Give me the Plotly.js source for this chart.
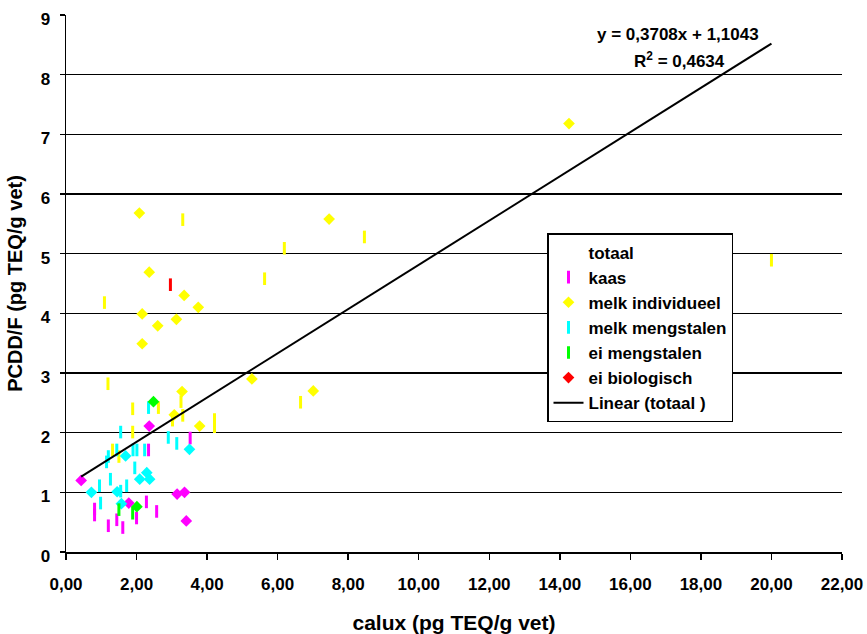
<!DOCTYPE html>
<html>
<head>
<meta charset="utf-8">
<script src="https://cdn.plot.ly/plotly-3.0.1.min.js"></script>
<style>html,body{margin:0;padding:0;background:#fff;}#chart{width:867px;height:634px;}</style>
</head>
<body>
<div id="chart"></div>
<script>
// ---- data ----
const seriesNames = ["kaas", "melk individueel", "melk mengstalen", "ei mengstalen", "ei biologisch"];

const kaasDiamondX = [0.43, 2.36, 3.15, 3.36, 1.78, 3.41];
const kaasDiamondY = [1.20, 2.11, 0.97, 1.00, 0.82, 0.52];
const kaasBarX = [3.52, 2.34, 0.81, 0.81, 2.28, 2.57, 2.00, 1.44, 1.20, 1.61];
const kaasBarY = [1.91, 1.71, 0.72, 0.62, 0.84, 0.68, 0.57, 0.54, 0.44, 0.41];

const melkIndDiamondX = [3.29, 3.07, 3.79, 2.08, 2.36, 3.35, 3.75, 2.16, 3.13, 2.60, 2.16, 7.46, 5.27, 7.01, 14.26];
const melkIndDiamondY = [2.69, 2.30, 2.11, 5.68, 4.69, 4.30, 4.10, 3.99, 3.90, 3.79, 3.49, 5.58, 2.90, 2.70, 7.18];
const melkIndBarX = [1.19, 1.89, 2.62, 3.26, 3.02, 3.31, 4.21, 4.21, 1.89, 1.32, 1.50, 3.31, 1.09, 8.46, 6.19, 5.63, 6.65, 20.00];
const melkIndBarY = [2.82, 2.40, 2.42, 2.52, 2.21, 2.29, 2.22, 2.10, 2.01, 1.71, 1.60, 5.57, 4.18, 5.28, 5.09, 4.58, 2.51, 4.89];

const melkMengDiamondX = [3.50, 1.69, 2.29, 2.37, 2.09, 0.72, 1.45, 1.57];
const melkMengDiamondY = [1.72, 1.61, 1.33, 1.22, 1.22, 1.00, 1.01, 0.81];
const melkMengBarX = [2.34, 1.55, 2.90, 3.14, 1.90, 2.01, 2.23, 1.44, 1.20, 1.15, 1.95, 1.26, 0.95, 1.72, 1.55, 0.98];
const melkMengBarY = [2.42, 2.01, 1.92, 1.82, 1.71, 1.71, 1.71, 1.71, 1.60, 1.51, 1.41, 1.22, 1.11, 1.11, 1.02, 0.82];

const eiMengDiamondX = [2.48, 2.01];
const eiMengDiamondY = [2.52, 0.76];
const eiMengBarX = [1.50, 1.89];
const eiMengBarY = [0.71, 0.65];

const eiBioDiamondX = [];
const eiBioDiamondY = [];
const eiBioBarX = [2.96];
const eiBioBarY = [4.48];

const trendSlope = 0.3708;
const trendIntercept = 1.1043;
const rSquared = "0,4634";
const xTickVals = [0, 2, 4, 6, 8, 10, 12, 14, 16, 18, 20, 22];
const yTickVals = [0, 1, 2, 3, 4, 5, 6, 7, 8, 9];

// ---- build ----
const FONT = "Liberation Sans, Arial, sans-serif";
const colors = ["#FF00FF", "#FFFF00", "#00FFFF", "#00FF00", "#FF0000"];
const diamondsX = [kaasDiamondX, melkIndDiamondX, melkMengDiamondX, eiMengDiamondX, eiBioDiamondX];
const diamondsY = [kaasDiamondY, melkIndDiamondY, melkMengDiamondY, eiMengDiamondY, eiBioDiamondY];
const barsX = [kaasBarX, melkIndBarX, melkMengBarX, eiMengBarX, eiBioBarX];
const barsY = [kaasBarY, melkIndBarY, melkMengBarY, eiMengBarY, eiBioBarY];
const legendSymbol = ["bar", "diamond", "bar", "bar", "diamond"];

const allX = [].concat(...diamondsX, ...barsX);
const allY = [].concat(...diamondsY, ...barsY);

const traces = [];
traces.push({
  type: "scatter", mode: "markers", name: "totaal", x: allX, y: allY,
  marker: {color: "rgba(0,0,0,0)", size: 1}, hoverinfo: "skip", legendrank: 1
});
seriesNames.forEach((n, i) => {
  const dx = diamondsX[i].length ? diamondsX[i] : [null];
  const dy = diamondsY[i].length ? diamondsY[i] : [null];
  traces.push({
    type: "scatter", mode: "markers", name: n, x: dx, y: dy,
    marker: {symbol: "diamond", size: 9, color: colors[i], line: {width: 0}},
    showlegend: legendSymbol[i] === "diamond", legendrank: 2 + i
  });
  traces.push({
    type: "scatter", mode: "markers", name: n, x: barsX[i], y: barsY[i],
    marker: {symbol: "line-ns", size: 9, color: colors[i], line: {width: 3, color: colors[i]}},
    showlegend: legendSymbol[i] === "bar", legendrank: 2 + i
  });
});
const xMin = Math.min(...allX), xMax = Math.max(...allX);
traces.push({
  type: "scatter", mode: "lines", name: "Linear (totaal )",
  x: [xMin, xMax], y: [trendSlope * xMin + trendIntercept, trendSlope * xMax + trendIntercept],
  line: {color: "#000", width: 2}, legendrank: 10
});

const L = 66, R = 842, T = 15, B = 552;
const px = v => (v - L) / (R - L);
const py = v => (B - v) / (B - T);
const fmt = v => v.toFixed(4).replace(".", ",");
const layout = {
  width: 867, height: 634,
  margin: {l: L, r: 867 - R, t: T, b: 634 - B},
  paper_bgcolor: "#fff", plot_bgcolor: "#fff",
  separators: ",.",
  font: {family: FONT, color: "#000", size: 17, weight: "bold"},
  showlegend: true,
  legend: {
    x: px(547), y: py(233), xanchor: "left", yanchor: "top",
    bgcolor: "#fff", bordercolor: "#000", borderwidth: 1.5,
    font: {family: FONT, size: 17, weight: "bold", color: "#000"},
    tracegroupgap: 0, itemwidth: 30
  },
  xaxis: {
    range: [0, 22], tickvals: xTickVals, tickformat: ".2f",
    showgrid: false, zeroline: false, showline: true, linecolor: "#000", linewidth: 1.5,
    ticks: "outside", ticklen: 6, tickcolor: "#000", tickwidth: 1.5,
    ticklabelstandoff: 10, ticklabeloverflow: "allow",
    tickfont: {family: FONT, size: 17, weight: "bold"},
    title: {text: "calux (pg TEQ/g vet)", font: {family: FONT, size: 21, weight: "bold"}, standoff: 22}
  },
  yaxis: {
    range: [0, 9], tickvals: yTickVals,
    showgrid: true, gridcolor: "#000", gridwidth: 1.5, zeroline: false,
    showline: true, linecolor: "#000", linewidth: 1.5,
    ticks: "outside", ticklen: 5, tickcolor: "#000", tickwidth: 1.5,
    ticklabelstandoff: 6, ticklabelshift: 4,
    tickfont: {family: FONT, size: 17, weight: "bold"},
    title: {text: "PCDD/F (pg TEQ/g vet)", font: {family: FONT, size: 20, weight: "bold"}, standoff: 12}
  },
  annotations: [
    {xref: "paper", yref: "paper", x: px(678), y: py(34), xanchor: "center", yanchor: "middle",
     showarrow: false, text: "y = " + fmt(trendSlope) + "x + " + fmt(trendIntercept),
     font: {family: FONT, size: 17, weight: "bold"}},
    {xref: "paper", yref: "paper", x: px(679), y: py(60), xanchor: "center", yanchor: "middle",
     showarrow: false, text: "R<sup>2</sup> = " + rSquared,
     font: {family: FONT, size: 17, weight: "bold"}}
  ]
};
Plotly.newPlot("chart", traces, layout, {displayModeBar: false, staticPlot: true});
</script>
</body>
</html>
